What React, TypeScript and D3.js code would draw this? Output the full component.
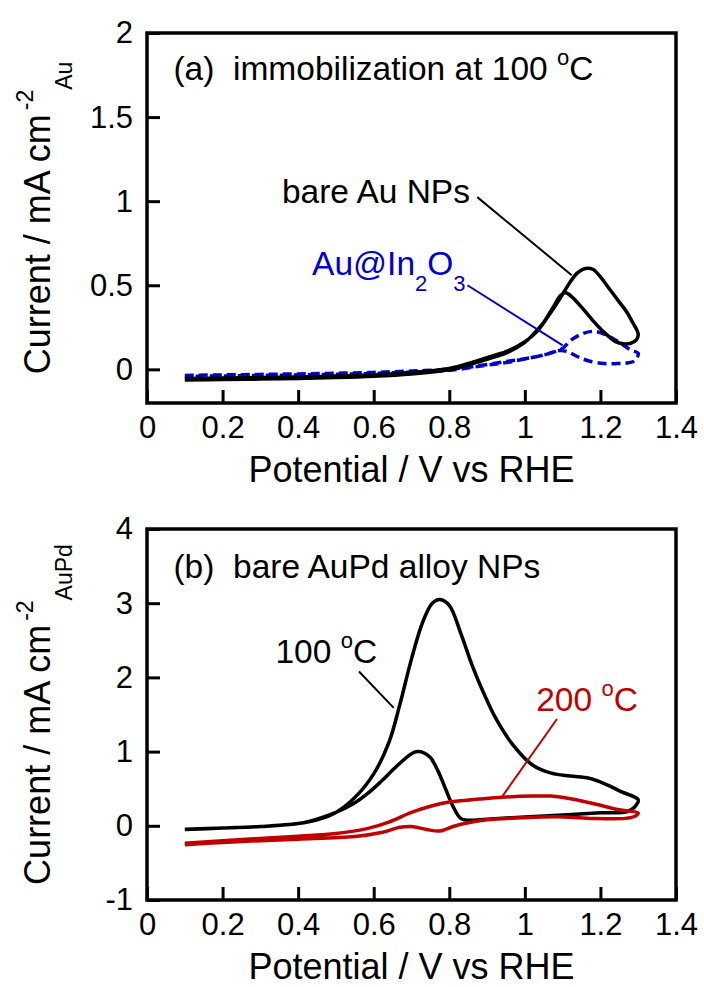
import React, { useEffect, useRef } from 'react';
import * as d3 from 'd3';

// potential (V vs RHE), current density pairs
const bareAuAnodic: [number, number][] = [
  [0.1, -0.055], [0.2, -0.052], [0.3, -0.049], [0.4, -0.045], [0.5, -0.04], [0.6, -0.032],
  [0.7, -0.018], [0.8, 0.006], [0.85, 0.035], [0.9, 0.07], [0.95, 0.105], [1.0, 0.165],
  [1.03, 0.22], [1.06, 0.31], [1.09, 0.41], [1.12, 0.52], [1.14, 0.575], [1.16, 0.6],
  [1.18, 0.595], [1.2, 0.55], [1.22, 0.49], [1.25, 0.4], [1.27, 0.34], [1.285, 0.28], [1.3, 0.21],
];
const bareAuCathodic: [number, number][] = [
  [1.295, 0.175], [1.28, 0.155], [1.26, 0.152], [1.24, 0.165], [1.21, 0.22], [1.18, 0.29],
  [1.15, 0.37], [1.125, 0.43], [1.108, 0.455], [1.095, 0.44], [1.075, 0.37], [1.05, 0.28],
  [1.025, 0.215], [1.0, 0.16], [0.95, 0.096], [0.9, 0.06], [0.85, 0.027], [0.8, -0.003],
  [0.7, -0.027], [0.6, -0.041], [0.5, -0.049], [0.4, -0.054], [0.3, -0.058], [0.2, -0.061], [0.1, -0.063],
];
const auIn2O3Anodic: [number, number][] = [
  [0.1, -0.036], [0.2, -0.033], [0.3, -0.03], [0.4, -0.027], [0.5, -0.023], [0.6, -0.018],
  [0.7, -0.01], [0.8, 0.0], [0.86, 0.016], [0.95, 0.046], [1.03, 0.075], [1.08, 0.105],
  [1.1, 0.125], [1.12, 0.17], [1.15, 0.21], [1.18, 0.226], [1.21, 0.21], [1.25, 0.16],
  [1.28, 0.115], [1.3, 0.095],
];
const auIn2O3Cathodic: [number, number][] = [
  [1.29, 0.05], [1.27, 0.038], [1.24, 0.034], [1.21, 0.035], [1.17, 0.05], [1.14, 0.075],
  [1.11, 0.108], [1.09, 0.112], [1.05, 0.085], [1.0, 0.062], [0.95, 0.04], [0.9, 0.025],
  [0.8, -0.006], [0.7, -0.016], [0.6, -0.024], [0.5, -0.029], [0.4, -0.033], [0.3, -0.036],
  [0.2, -0.039], [0.1, -0.042],
];
const auPd100Anodic: [number, number][] = [
  [0.1, -0.05], [0.2, -0.03], [0.3, -0.01], [0.4, 0.03], [0.45, 0.08], [0.5, 0.18], [0.55, 0.38],
  [0.6, 0.7], [0.64, 1.12], [0.67, 1.65], [0.7, 2.25], [0.73, 2.75], [0.755, 3.0], [0.775, 3.05],
  [0.8, 2.97], [0.83, 2.6], [0.86, 2.17], [0.89, 1.8], [0.925, 1.43], [0.97, 1.08], [1.02, 0.82],
  [1.07, 0.71], [1.12, 0.67], [1.17, 0.64], [1.21, 0.57], [1.255, 0.46], [1.3, 0.35],
];
const auPd100Cathodic: [number, number][] = [
  [1.29, 0.25], [1.27, 0.19], [1.2, 0.175], [1.1, 0.145], [1.0, 0.12], [0.9, 0.09], [0.85, 0.075],
  [0.83, 0.1], [0.81, 0.26], [0.79, 0.5], [0.77, 0.74], [0.75, 0.92], [0.73, 0.99], [0.715, 1.0],
  [0.7, 0.97], [0.66, 0.8], [0.62, 0.6], [0.585, 0.44], [0.547, 0.3], [0.5, 0.18], [0.45, 0.09],
  [0.4, 0.03], [0.3, -0.01], [0.2, -0.03], [0.1, -0.045],
];
const auPd200Anodic: [number, number][] = [
  [0.1, -0.235], [0.2, -0.2], [0.3, -0.17], [0.4, -0.14], [0.5, -0.105], [0.585, -0.035],
  [0.64, 0.05], [0.7, 0.18], [0.755, 0.27], [0.8, 0.32], [0.88, 0.36], [0.94, 0.385],
  [1.02, 0.4], [1.07, 0.4], [1.11, 0.375], [1.18, 0.3], [1.245, 0.22], [1.3, 0.17],
];
const auPd200Cathodic: [number, number][] = [
  [1.29, 0.125], [1.265, 0.1], [1.18, 0.1], [1.1, 0.12], [1.0, 0.11], [0.9, 0.08], [0.84, 0.03],
  [0.81, -0.01], [0.775, -0.07], [0.74, -0.05], [0.7, -0.01], [0.67, -0.02], [0.62, -0.09],
  [0.55, -0.145], [0.4, -0.18], [0.3, -0.2], [0.2, -0.225], [0.1, -0.255],
];

const xTicks = [0, 0.2, 0.4, 0.6, 0.8, 1.0, 1.2, 1.4];
const xTickLabels = ['0', '0.2', '0.4', '0.6', '0.8', '1', '1.2', '1.4'];
const aYTicks = [0, 0.5, 1, 1.5, 2];
const aYTickLabels = ['0', '0.5', '1', '1.5', '2'];
const bYTicks = [-1, 0, 1, 2, 3, 4];
const bYTickLabels = ['-1', '0', '1', '2', '3', '4'];

const BLUE = '#0000cc';
const RED = '#c00000';
const FONT = '"Liberation Sans", Arial, Helvetica, sans-serif';

const W = 704;
const H = 987;
const NOTE = 33.5; // annotation font size
const SUP = 22;

const App = () => {
  const svgRef = useRef<SVGSVGElement>(null);

  useEffect(() => {
    const svg = d3.select(svgRef.current);
    svg.selectAll('*').remove();
    svg.attr('width', W).attr('height', H).style('font-family', FONT);

    const left = 147;
    const right = 676;
    const x = d3.scaleLinear().domain([0, 1.4]).range([left, right]);

    const line = d3.line<[number, number]>().curve(d3.curveCatmullRom.alpha(0.5));

    const drawPanel = (opts: any) => {
      const { top, bottom, yDomain, yTicks, yTickLabels, subscript } = opts;
      const y = d3.scaleLinear().domain(yDomain).range([bottom, top]);
      const g = svg.append('g');

      // axes with inward ticks
      const xa = g.append('g')
        .attr('transform', `translate(0,${bottom})`)
        .call(d3.axisBottom(x).tickValues(xTicks).tickSize(-13).tickPadding(13)
          .tickFormat((_, i) => xTickLabels[i]));
      const ya = g.append('g')
        .attr('transform', `translate(${left},0)`)
        .call(d3.axisLeft(y).tickValues(yTicks).tickSize(-13).tickPadding(14)
          .tickFormat((_, i) => yTickLabels[i]));
      [xa, ya].forEach(a => {
        a.select('.domain').remove();
        a.attr('font-family', FONT).attr('font-size', 31);
        a.selectAll('line').attr('stroke', '#000').attr('stroke-width', 3);
        a.selectAll('text').attr('fill', '#000');
      });

      g.append('rect')
        .attr('x', left).attr('y', top)
        .attr('width', right - left).attr('height', bottom - top)
        .attr('fill', 'none').attr('stroke', '#000').attr('stroke-width', 3.5);

      // axis titles
      g.append('text')
        .attr('x', (left + right) / 2)
        .attr('y', bottom + 79)
        .attr('text-anchor', 'middle')
        .attr('font-size', 36)
        .text('Potential / V vs RHE');

      const yt = g.append('text')
        .attr('transform', `translate(50,${(top + bottom) / 2}) rotate(-90)`)
        .attr('text-anchor', 'middle')
        .attr('font-size', 36);
      yt.append('tspan').text('Current / mA cm');
      yt.append('tspan').attr('font-size', 23).attr('dx', 4).attr('dy', -17).text('-2');
      yt.append('tspan').attr('font-size', 23).attr('dy', 39).text(subscript);

      return { g, y };
    };

    const degC = (sel: any, prefix: string) => {
      sel.append('tspan').text(prefix);
      sel.append('tspan').attr('font-size', SUP).attr('dy', -15).text('o');
      sel.append('tspan').attr('dy', 15).text('C');
    };

    // panel (a)
    const pa = drawPanel({
      top: 33, bottom: 403, yDomain: [-0.2, 2], yTicks: aYTicks, yTickLabels: aYTickLabels, subscript: 'Au',
    });
    const ya = pa.y;
    line.x(d => x(d[0])).y(d => ya(d[1]));

    pa.g.append('path')
      .attr('d', line([...auIn2O3Anodic, ...auIn2O3Cathodic]))
      .attr('fill', 'none').attr('stroke', BLUE).attr('stroke-width', 3.5)
      .attr('stroke-dasharray', '9,5');
    pa.g.append('path')
      .attr('d', line([...bareAuAnodic, ...bareAuCathodic]))
      .attr('fill', 'none').attr('stroke', '#000').attr('stroke-width', 3.5)
      .attr('stroke-linejoin', 'round');

    pa.g.append('line')
      .attr('x1', x(0.874)).attr('y1', ya(1.024)).attr('x2', x(1.124)).attr('y2', ya(0.56))
      .attr('stroke', '#000').attr('stroke-width', 2);
    pa.g.append('line')
      .attr('x1', x(0.848)).attr('y1', ya(0.5)).attr('x2', x(1.1)).attr('y2', ya(0.143))
      .attr('stroke', BLUE).attr('stroke-width', 2);

    const ta = pa.g.append('text').attr('x', x(0.07)).attr('y', ya(1.72)).attr('font-size', NOTE)
      .attr('xml:space', 'preserve');
    degC(ta, '(a)  immobilization at 100 ');

    pa.g.append('text').attr('x', x(0.357)).attr('y', ya(0.988)).attr('font-size', NOTE)
      .text('bare Au NPs');

    const tin = pa.g.append('text').attr('x', x(0.437)).attr('y', ya(0.56)).attr('font-size', NOTE)
      .attr('fill', BLUE);
    tin.append('tspan').text('Au@In');
    tin.append('tspan').attr('font-size', SUP).attr('dy', 16).text('2');
    tin.append('tspan').attr('dy', -16).text('O');
    tin.append('tspan').attr('font-size', SUP).attr('dy', 16).text('3');

    // panel (b)
    const pb = drawPanel({
      top: 529, bottom: 900, yDomain: [-1, 4], yTicks: bYTicks, yTickLabels: bYTickLabels, subscript: 'AuPd',
    });
    const yb = pb.y;
    line.x(d => x(d[0])).y(d => yb(d[1]));

    pb.g.append('path')
      .attr('d', line([...auPd100Anodic, ...auPd100Cathodic]))
      .attr('fill', 'none').attr('stroke', '#000').attr('stroke-width', 3.5)
      .attr('stroke-linejoin', 'round');
    pb.g.append('path')
      .attr('d', line([...auPd200Anodic, ...auPd200Cathodic]))
      .attr('fill', 'none').attr('stroke', RED).attr('stroke-width', 3.5)
      .attr('stroke-linejoin', 'round');

    pb.g.append('line')
      .attr('x1', x(0.561)).attr('y1', yb(2.08)).attr('x2', x(0.653)).attr('y2', yb(1.59))
      .attr('stroke', '#000').attr('stroke-width', 2);
    pb.g.append('line')
      .attr('x1', x(1.085)).attr('y1', yb(1.44)).attr('x2', x(0.939)).attr('y2', yb(0.387))
      .attr('stroke', RED).attr('stroke-width', 2);

    pb.g.append('text').attr('x', x(0.07)).attr('y', yb(3.34)).attr('font-size', NOTE)
      .attr('xml:space', 'preserve')
      .text('(b)  bare AuPd alloy NPs');

    const t100 = pb.g.append('text').attr('x', x(0.34)).attr('y', yb(2.19)).attr('font-size', NOTE);
    degC(t100, '100 ');

    const t200 = pb.g.append('text').attr('x', x(1.03)).attr('y', yb(1.55)).attr('font-size', NOTE)
      .attr('fill', RED);
    degC(t200, '200 ');
  }, []);

  return (
    <div style={{ position: 'absolute', left: 0, top: 0, background: '#fff' }}>
      <svg ref={svgRef}></svg>
    </div>
  );
};

export default App;
